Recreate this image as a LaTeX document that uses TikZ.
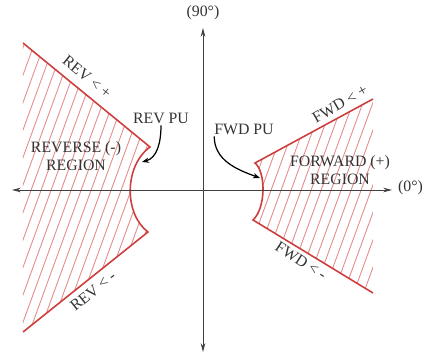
\documentclass[tikz,border=0pt]{standalone}
\usepackage{fontspec}
\setmainfont{Liberation Serif}
\usetikzlibrary{arrows.meta}
\definecolor{bred}{RGB}{205,62,62}
\definecolor{hred}{RGB}{228,140,140}

\begin{document}
\begin{tikzpicture}[x=0.02cm, y=0.02cm,
  every node/.style={font=\fontsize{9}{10.2}\selectfont, text=black!80, inner sep=1pt},
  axis/.style={black!75, line width=0.5pt, {Stealth[length=5pt,width=2.6pt]}-{Stealth[length=5pt,width=2.6pt]}},
  edge/.style={bred, line width=0.9pt},
  hatch/.style={hred, line width=0.5pt},
  pu/.style={black, line width=0.7pt, -{Stealth[length=4pt,width=3pt]}}]
  \useasboundingbox (0,0) rectangle (427,358);
  \coordinate (a1) at (23,315);
  \coordinate (a2) at (150,211);
  \coordinate (a3) at (148,126);
  \coordinate (a4) at (23,26);
  \coordinate (b1) at (255,195);
  \coordinate (b2) at (373,259);
  \coordinate (b3) at (253,138);
  \coordinate (b4) at (373,65);
  \begin{scope}
    \clip (a1) -- (a2) .. controls (124,192) and (124,144) .. (a3) -- (a4) -- cycle;
    \foreach \x in {-110,-100,...,160} \draw[hatch] (\x,0) -- ++(70:400);
  \end{scope}
  \begin{scope}
    \clip (b1) -- (b2) -- (b4) -- (b3) .. controls (266,150) and (266,186) .. (b1);
    \foreach \x in {130,140,...,390} \draw[hatch] (\x,0) -- ++(70:400);
  \end{scope}
  \draw[edge] (a1) -- (a2) .. controls (124,192) and (124,144) .. (a3) -- (a4);
  \draw[edge] (b2) -- (b1) .. controls (266,186) and (266,150) .. (b3) -- (b4);
  \coordinate (xl) at (12,168);
  \coordinate (xr) at (392,168);
  \coordinate (yt) at (203,330);
  \coordinate (yb) at (203,6);
  \draw[axis] (xl) -- (xr);
  \draw[axis] (yb) -- (yt);
  \node (deg90) at (203,345) {(90°)};
  \node[anchor=west] (deg0) at (396,170) {(0°)};
  \node[align=center] (revreg) at (76,202) {REVERSE (-)\\REGION};
  \node[align=center] (fwdreg) at (340,188) {FORWARD (+)\\REGION};
  \node[rotate=-39] (revp) at (87,281) {REV < +};
  \node[rotate=39] (revm) at (93,67) {REV < -};
  \node[rotate=30] (fwdp) at (340,254) {FWD < +};
  \node[rotate=-33] (fwdm) at (301,97) {FWD < -};
  \node (revpu) at (161,240) {REV PU};
  \node (fwdpu) at (244,229) {FWD PU};
  \coordinate (revtip) at (142,196);
  \coordinate (fwdtip) at (260,180);
  \draw[pu] (revpu.south) to[out=-90, in=15] (revtip);
  \draw[pu] (fwdpu.south west) ++(2,0) to[out=-90, in=160] (fwdtip);
\end{tikzpicture}
\end{document}
